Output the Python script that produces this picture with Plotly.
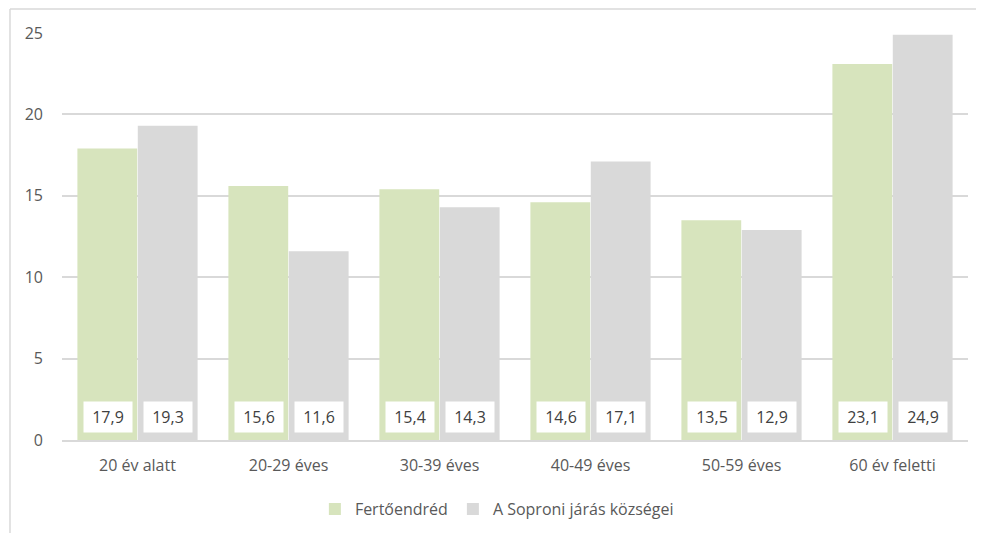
import plotly.graph_objects as go

categories = ["20 év alatt", "20-29 éves", "30-39 éves", "40-49 éves", "50-59 éves", "60 év feletti"]
fertoendred = [17.9, 15.6, 15.4, 14.6, 13.5, 23.1]
sopron_jaras = [19.3, 11.6, 14.3, 17.1, 12.9, 24.9]
series_names = ["Fertőendréd", "A Soproni járás községei"]
y_ticks = [0, 5, 10, 15, 20, 25]

green = "#d7e4bd"
gray = "#d9d9d9"
text_col = "#404040"
font_family = "Open Sans, Liberation Sans, sans-serif"

fig = go.Figure()
fig.add_trace(go.Bar(x=categories, y=fertoendred, name=series_names[0], marker=dict(color=green, line_width=0)))
fig.add_trace(go.Bar(x=categories, y=sopron_jaras, name=series_names[1], marker=dict(color=gray, line_width=0)))

def fmt(v):
    return f"{v:.1f}".replace(".", ",")

for vals, shift in ((fertoendred, -30), (sopron_jaras, 30)):
    for c, v in zip(categories, vals):
        fig.add_annotation(x=c, y=0, yref="y", xshift=shift, yshift=7, yanchor="bottom",
                           text=fmt(v), showarrow=False, bgcolor="white",
                           width=42, height=24, borderpad=3,
                           font=dict(size=16, color=text_col, family=font_family))

# chart outer border (left and top edges visible)
fig.add_shape(type="line", xref="paper", yref="paper", x0=-0.0574, x1=-0.0574, y0=-0.4, y1=1.059,
              line=dict(color="#d9d9d9", width=1.5), layer="below")
fig.add_shape(type="line", xref="paper", yref="paper", x0=-0.0574, x1=1.2, y0=1.059, y1=1.059,
              line=dict(color="#d9d9d9", width=1.5), layer="below")

fig.update_layout(
    width=984, height=533,
    margin=dict(l=54, r=24, t=25, b=101),
    paper_bgcolor="white", plot_bgcolor="white",
    barmode="group", bargap=0.2, bargroupgap=0.01,
    font=dict(family=font_family, color="#595959", size=16),
    showlegend=True,
    legend=dict(orientation="h", x=0.48, xanchor="center", y=-0.17, yanchor="middle",
                font=dict(size=16, color="#595959"), itemwidth=30, traceorder="normal"),
    xaxis=dict(showgrid=False, showline=True, linecolor="#d9d9d9", linewidth=1.5,
               ticks="", ticklabelstandoff=10, tickfont=dict(size=16, color="#595959")),
    yaxis=dict(range=[0, 25], tickvals=y_ticks, showgrid=True, gridcolor="#d9d9d9", gridwidth=1.5,
               zeroline=False, showline=False, ticks="", ticklabelstandoff=18,
               tickfont=dict(size=16, color="#595959")),
)

fig.write_html("out.html")
